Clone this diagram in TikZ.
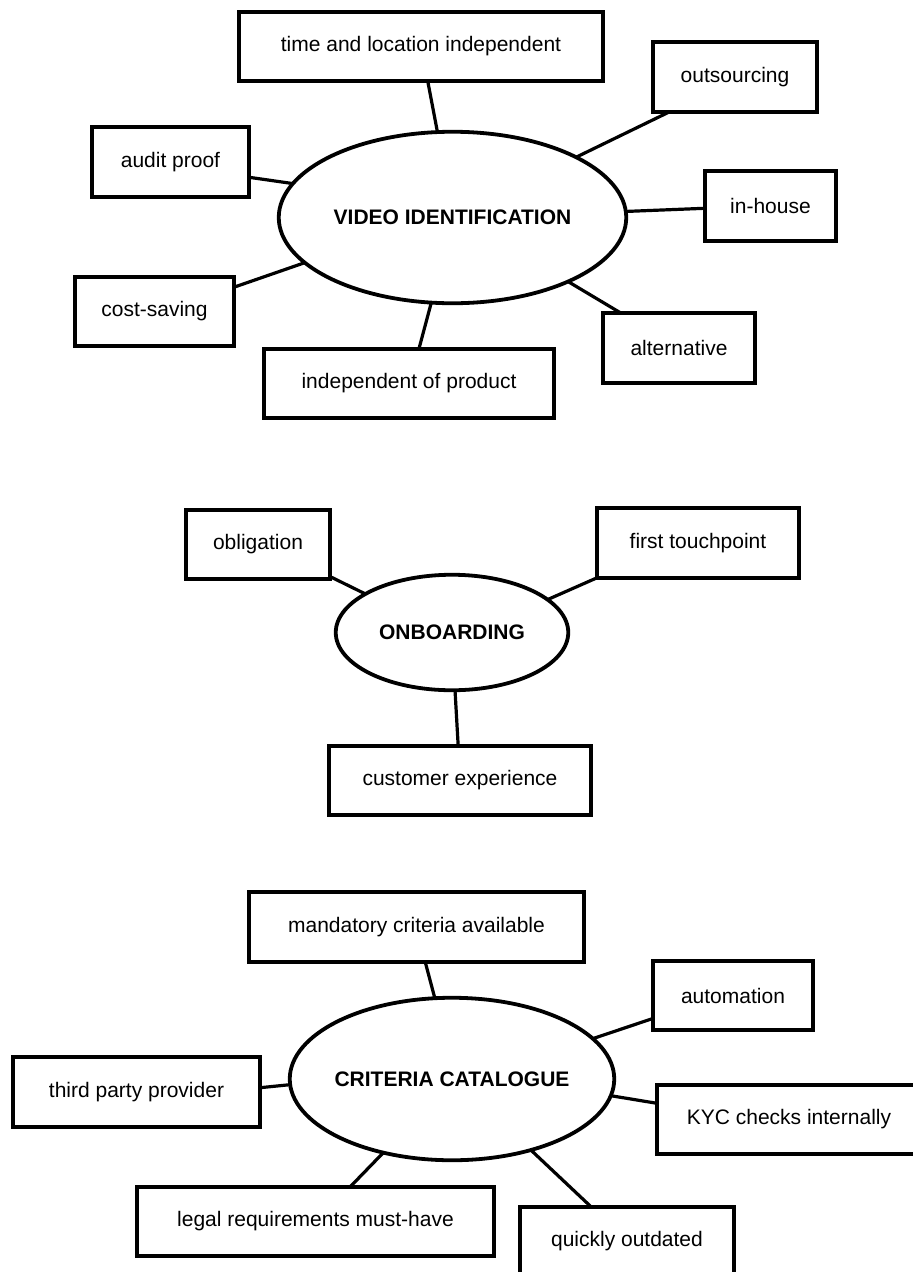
\documentclass[tikz,border=0pt]{standalone}
\usepackage{fontspec}
\setmainfont{Liberation Sans}
\usetikzlibrary{shapes.geometric}
\tikzstyle{box}=[rectangle, draw=black, line width=3.8pt, minimum height=69.5pt, inner sep=0pt, outer sep=0pt]
\tikzstyle{hub}=[ellipse, draw=black, line width=3.8pt, inner sep=0pt, outer sep=0pt, font=\fontsize{21}{25}\selectfont\bfseries]
\tikzstyle{link}=[line width=3.2pt]

\begin{document}
\begin{tikzpicture}[
    x=1pt, y=-1pt,
    font=\fontsize{21}{25}\selectfont]

      \useasboundingbox (0,0) rectangle (913,1272);
      \clip (0,0) rectangle (913,1272);

      % video identification
      \node[hub, minimum width=347.5pt, minimum height=171.5pt] (vid) at (452.5,217.5) {VIDEO IDENTIFICATION};

      \node[box, minimum width=364.5pt] (time)  at (421,46.5)    {time and location independent};
      \node[box, minimum width=164.5pt] (out)   at (735,77)      {outsourcing};
      \node[box, minimum width=157.5pt] (audit) at (170.5,162)   {audit proof};
      \node[box, minimum width=131.5pt] (inh)   at (770.5,206)   {in-house};
      \node[box, minimum width=159.5pt] (cost)  at (154.5,311.5) {cost-saving};
      \node[box, minimum width=152.5pt] (alt)   at (679,348)     {alternative};
      \node[box, minimum width=290.5pt] (indep) at (409,383.5)   {independent of product};

      \draw[link] (time.-79.4)  -- (vid.100.6);
      \draw[link] (out.-152.8)  -- (vid.26.3);
      \draw[link] (audit.-11.1) -- (vid.168.8);
      \draw[link] (inh.182.5)   -- (vid.2.1);
      \draw[link] (cost.17.2)   -- (vid.197.6);
      \draw[link] (alt.149.4)   -- (vid.-29.7);
      \draw[link] (indep.74.3)  -- (vid.-104.9);

      % onboarding
      \node[hub, minimum width=232.5pt, minimum height=115.5pt] (onb) at (452,632.5) {ONBOARDING};

      \node[box, minimum width=144.5pt] (oblig) at (258,544.5) {obligation};
      \node[box, minimum width=202.5pt] (touch) at (698,543)   {first touchpoint};
      \node[box, minimum width=262.5pt] (cust)  at (460,780.5) {customer experience};

      \draw[link] (oblig.-24.4) -- (onb.156.1);
      \draw[link] (touch.199.3) -- (onb.19.9);
      \draw[link] (cust.93)     -- (onb.-87.1);

      % criteria catalogue
      \node[hub, inner xsep=-8pt, minimum width=324.5pt, minimum height=162.5pt] (crit) at (452,1079) {CRITERIA CATALOGUE};

      \node[box, minimum width=335.5pt] (mand)  at (416.5,927)    {mandatory criteria available};
      \node[box, minimum width=160.5pt] (auto)  at (733,995.5)    {automation};
      \node[box, minimum width=247.5pt] (third) at (136.5,1092)   {third party provider};
      \node[box, minimum width=264.5pt] (kyc)   at (789,1119.5)   {KYC checks internally};
      \node[box, minimum width=357.5pt] (legal) at (315.5,1221.5) {legal requirements must-have};
      \node[box, minimum width=214.5pt] (quick) at (627,1241.5)   {quickly outdated};

      \draw[link] (mand.-76)     -- (crit.102.9);
      \draw[link] (auto.196.4)   -- (crit.16.7);
      \draw[link] (third.2.3)    -- (crit.182.1);
      \draw[link] (kyc.173.1)    -- (crit.-6.7);
      \draw[link] (legal.45.8)   -- (crit.-133.4);
      \draw[link] (quick.136.8)  -- (crit.-42.8);

    \end{tikzpicture}
\end{document}
